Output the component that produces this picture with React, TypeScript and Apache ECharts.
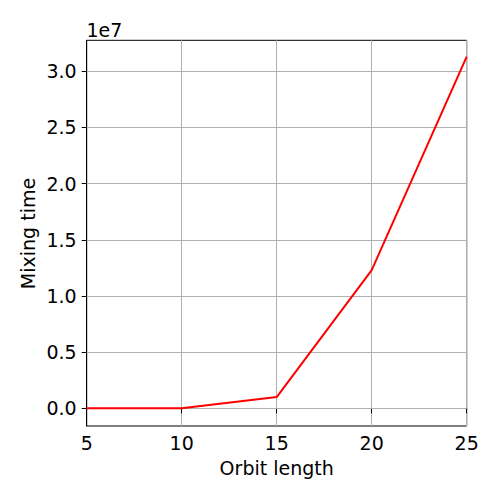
import React, { useEffect, useRef } from "react";
import * as echarts from "echarts";

const orbitLengths = [5, 10, 15, 20, 25];
const mixingTimes = [0, 5000, 1000000, 12300000, 31300000];
const yTicks = [0, 5e6, 1e7, 1.5e7, 2e7, 2.5e7, 3e7];
const xTicks = [5, 10, 15, 20, 25];

export default function App() {
  const ref = useRef<HTMLDivElement>(null);
  useEffect(() => {
    const chart = echarts.init(ref.current!, null, { renderer: "svg" });
    const font = "DejaVu Sans";
    const fs = 19;
    chart.setOption({
      animation: false,
      backgroundColor: "#fff",
      grid: {
        left: 86.7,
        top: 40.3,
        right: 33.3,
        bottom: 74,
        show: true,
        borderColor: "#000",
        borderWidth: 1,
      },
      xAxis: {
        type: "value",
        min: xTicks[0],
        max: xTicks[xTicks.length - 1],
        interval: 5,
        axisLine: { show: true, lineStyle: { color: "#000", width: 1 } },
        axisTick: { show: true, length: 5, lineStyle: { color: "#000" } },
        axisLabel: { color: "#000", fontSize: fs, fontFamily: font, margin: 7 },
        splitLine: { show: true, lineStyle: { color: "#b0b0b0", width: 1 } },
      },
      yAxis: {
        type: "value",
        min: -1570000,
        max: 32750000,
        axisLine: { show: true, lineStyle: { color: "#000", width: 1 } },
        axisTick: {
          show: true,
          length: 5,
          lineStyle: { color: "#000" },
          customValues: yTicks,
        },
        axisLabel: {
          color: "#000",
          fontSize: fs,
          fontFamily: font,
          margin: 10,
          customValues: yTicks,
          formatter: (v: number) => (v / 1e7).toFixed(1),
        },
        splitLine: { show: false },
      },
      series: [
        {
          type: "line",
          data: orbitLengths.map((x, i) => [x, mixingTimes[i]]),
          showSymbol: false,
          symbol: "none",
          lineStyle: { color: "#ff0000", width: 2 },
          z: 5,
          markLine: {
            silent: true,
            symbol: "none",
            label: { show: false },
            lineStyle: { color: "#b0b0b0", width: 1, type: "solid" },
            data: yTicks.map((v) => ({ yAxis: v })),
            z: 1,
          },
        },
      ],
      graphic: [
        {
          type: "text",
          x: 86.5,
          y: 29.9,
          style: {
            text: "1e7",
            fontSize: fs,
            fontFamily: font,
            fill: "#000",
            align: "left",
            verticalAlign: "middle",
          },
        },
        {
          type: "text",
          x: 276.7,
          y: 468,
          style: {
            text: "Orbit length",
            fontSize: fs,
            fontFamily: font,
            fill: "#000",
            align: "center",
            verticalAlign: "middle",
          },
        },
        {
          type: "text",
          x: 28.4,
          y: 233.5,
          rotation: Math.PI / 2,
          style: {
            text: "Mixing time",
            fontSize: fs,
            fontFamily: font,
            fill: "#000",
            align: "center",
            verticalAlign: "middle",
          },
        },
      ],
    });
    return () => chart.dispose();
  }, []);
  return (
    <div
      ref={ref}
      style={{ position: "fixed", left: 0, top: 0, width: 500, height: 500 }}
    />
  );
}
